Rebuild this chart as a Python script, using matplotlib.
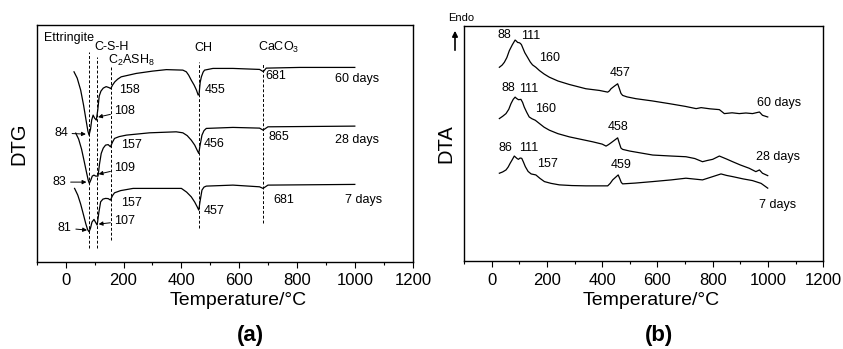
#! /usr/bin/env python3
import numpy as np
import matplotlib
matplotlib.use('Agg')
import matplotlib.pyplot as plt
from matplotlib.ticker import MultipleLocator

plt.rcParams['font.family'] = ['Liberation Sans', 'DejaVu Sans']
plt.rcParams['mathtext.default'] = 'regular'

# DTG curves (temperature in C, signal in arbitrary offset units)
dtg_60_t = [29, 40, 52, 62, 70, 77, 81, 86, 90, 95, 100, 106, 111, 116, 122, 130, 140, 150,
            156, 162, 170, 180, 192, 244, 300, 348, 405, 417, 425, 434, 444, 452, 458, 461,
            465, 469, 475, 480, 509, 578, 670, 683, 693, 809, 999]
dtg_60_v = [190.3, 184, 172, 157, 143, 131, 127, 133, 142, 147, 144, 142, 152, 166, 171,
            174, 175.5, 174.5, 173.5, 177, 180.3, 183, 185.3, 188.7, 191, 192.5, 192, 190.3,
            187, 182, 177, 172, 167, 168, 180, 185.3, 190, 192, 193.7, 193.7, 192.7, 190.5,
            194, 194.7, 194.7]
dtg_28_t = [35, 45, 55, 64, 72, 78, 82, 87, 92, 98, 104, 112, 117, 123, 130, 138, 147, 155,
            162, 169, 185, 210, 290, 382, 405, 420, 434, 446, 455, 460, 464, 471, 478, 486,
            578, 670, 682, 699, 999]
dtg_28_v = [129, 123, 113, 101, 90, 82, 78.7, 82, 86, 87, 86, 86, 98, 108.7, 114, 117,
            117.5, 115.3, 120, 123.7, 125.5, 127, 129.3, 130.3, 129.3, 126.5, 122, 117,
            111.5, 108.7, 116, 127, 131.5, 133.7, 134.7, 134, 132, 135.3, 136]
dtg_7_t = [31, 42, 52, 62, 70, 76, 81, 86, 91, 98, 103, 109, 115, 121, 129, 138, 147, 155,
           162, 169, 190, 233, 371, 400, 418, 434, 446, 455, 460, 464, 471, 478, 486, 578,
           670, 682, 699, 999]
dtg_7_v = [73.7, 67, 58, 47, 38, 32.5, 30.3, 34, 40, 42.7, 40, 37, 50, 60.3, 63, 63.7,
           63.5, 62, 66.5, 69.3, 71.5, 73.7, 73.7, 73.7, 70, 65.3, 60, 55, 52, 60, 72,
           75, 76, 77, 75.3, 73.7, 77, 77.7]

# DTA curves
dta_60_t = [28, 38, 46, 55, 64, 75, 85, 90, 94, 100, 104, 108, 112, 120, 130, 140, 148,
            160, 173, 190, 209, 240, 281, 341, 390, 420, 426, 432, 445, 456, 462, 468, 474,
            490, 522, 580, 643, 700, 740, 758, 790, 824, 842, 870, 896, 920, 944, 969, 980,
            999]
dta_60_v = [195.3, 197.5, 200.3, 205, 212, 218, 222.7, 221.5, 220.3, 220, 219.3, 218,
            215.3, 210, 205.3, 200.5, 197.7, 195.3, 192, 188.5, 185.3, 181.5, 178, 173.7,
            172, 170.3, 171.5, 173.7, 176.5, 178.7, 174, 169, 167, 165.5, 163.7, 161.5,
            158.7, 156, 153.7, 154.7, 153.5, 152.7, 148.7, 149.5, 148.7, 149.3, 148.7, 150.3,
            147, 145.3]
dta_28_t = [28, 40, 52, 62, 70, 78, 85, 90, 97, 106, 112, 118, 127, 136, 146, 158, 173,
            190, 209, 240, 281, 320, 366, 400, 414, 423, 432, 445, 456, 462, 468, 474, 500,
            583, 650, 703, 735, 763, 780, 800, 824, 850, 872, 900, 932, 956, 969, 980, 999]
dta_28_v = [143.7, 146, 148.7, 153, 158.7, 163, 165.3, 164, 162.7, 163, 160, 155.3, 150,
            145.3, 143.5, 142, 138.7, 135, 132, 128.5, 125.3, 123, 120.3, 118, 116, 117.5,
            119.3, 122, 124.3, 119, 114, 112.7, 111, 107, 106, 105.3, 103.5, 100.3, 101.5,
            102.7, 106, 103, 100.3, 97, 93.7, 90.3, 92, 88.7, 86.3]
dta_7_t = [28, 40, 52, 60, 67, 75, 82, 88, 92, 97, 103, 109, 115, 122, 132, 143, 160, 175,
           191, 215, 245, 290, 341, 420, 429, 438, 448, 458, 464, 469, 474, 520, 583, 650,
           703, 763, 800, 830, 850, 872, 910, 944, 975, 999]
dta_7_v = [88.7, 90, 92, 95, 98.7, 102.5, 106, 104.5, 103.5, 102.7, 104, 103.7, 100,
           95.3, 90.5, 88, 87, 83.5, 80.3, 78.5, 77, 76.3, 76, 76, 78.5, 82, 84.5, 87, 83,
           79.5, 78, 78.8, 80.3, 82, 83.7, 82, 85.3, 88, 86.5, 85.3, 83, 81.3, 78.5, 73.7]

# dashed marker lines in (a): temperature, top, bottom
peak_t = [80, 110, 156, 460, 683]
peak_top = [210, 205, 195, 200, 199]
peak_bot = [14, 14, 22, 34, 39]


def style(ax):
    ax.set_xlim(-100, 1200)
    ax.set_ylim(0, 237)
    ax.xaxis.set_major_locator(MultipleLocator(200))
    ax.xaxis.set_minor_locator(MultipleLocator(100))
    ax.tick_params(axis='x', which='major', direction='out', length=4, width=0.8,
                   labelsize=12, pad=4)
    ax.tick_params(axis='x', which='minor', direction='out', length=2.5, width=0.8)
    ax.set_yticks([])
    for s in ax.spines.values():
        s.set_linewidth(1.0)


fig = plt.figure(figsize=(8.43, 3.49), dpi=100)
ax1 = fig.add_axes([0.0435, 0.249, 0.4464, 0.679])
ax2 = fig.add_axes([0.5504, 0.251, 0.4262, 0.675])

# (a) DTG
for t, v in [(dtg_60_t, dtg_60_v), (dtg_28_t, dtg_28_v), (dtg_7_t, dtg_7_v)]:
    ax1.plot(t, v, color='k', lw=0.9)
ax1.vlines(peak_t, peak_bot, peak_top, colors='k', linestyles=(0, (3, 2)), lw=0.7)

fs = 9
labels_a = [(-76, 224, 'Ettringite'), (100, 215, 'C-S-H'), (145, 202, 'C$_2$ASH$_8$'),
            (446, 214, 'CH'), (663, 215, 'CaCO$_3$'),
            (183, 172, '158'), (480, 172, '455'), (691, 186, '681'), (929, 183, '60 days'),
            (193, 117, '157'), (477, 118, '456'), (701, 125, '865'), (929, 122, '28 days'),
            (193, 59, '157'), (477, 51, '457'), (716, 62, '681'), (964, 62, '7 days')]
for x, y, s in labels_a:
    ax1.text(x, y, s, fontsize=fs, ha='left', va='center')

arrows = dict(arrowstyle='-|>', lw=0.7, color='k', shrinkA=1, shrinkB=0,
              mutation_scale=6)
ax1.annotate('84', xy=(70, 128), xytext=(8, 129), ha='right', va='center',
             fontsize=fs, arrowprops=arrows)
ax1.annotate('83', xy=(72, 80), xytext=(3, 80), ha='right', va='center',
             fontsize=fs, arrowprops=arrows)
ax1.annotate('81', xy=(74, 32), xytext=(21, 34), ha='right', va='center',
             fontsize=fs, arrowprops=arrows)
ax1.annotate('108', xy=(112, 145), xytext=(169, 151), ha='left', va='center',
             fontsize=fs, arrowprops=arrows)
ax1.annotate('109', xy=(114, 88), xytext=(169, 94), ha='left', va='center',
             fontsize=fs, arrowprops=arrows)
ax1.annotate('107', xy=(114, 38), xytext=(169, 41), ha='left', va='center',
             fontsize=fs, arrowprops=arrows)

style(ax1)
ax1.set_xlabel('Temperature/°C', fontsize=14, labelpad=3)
ax1.xaxis.label.set_x(0.535)
ax1.set_ylabel('DTG', fontsize=14.5, labelpad=6)

# (b) DTA
for t, v in [(dta_60_t, dta_60_v), (dta_28_t, dta_28_v), (dta_7_t, dta_7_v)]:
    ax2.plot(t, v, color='k', lw=0.9)

labels_b = [(21, 228, '88'), (106, 227, '111'), (173, 205, '160'), (428, 189.5, '457'),
            (961, 159, '60 days'),
            (34, 174.5, '88'), (100, 173.7, '111'), (158, 153.5, '160'), (419, 135.3, '458'),
            (957, 105.3, '28 days'),
            (26, 114, '86'), (100, 114.3, '111'), (165, 97.5, '157'), (432, 96.5, '459'),
            (968, 57, '7 days')]
for x, y, s in labels_b:
    ax2.text(x, y, s, fontsize=fs, ha='left', va='center')

style(ax2)
ax2.set_xlabel('Temperature/°C', fontsize=14, labelpad=3)
ax2.xaxis.label.set_x(0.522)
ax2.set_ylabel('DTA', fontsize=14.5, labelpad=6)

# Endo arrow
fig.text(461 / 843, 1 - 18.3 / 349, 'Endo', fontsize=8, ha='center', va='center')
fig.add_artist(matplotlib.patches.FancyArrowPatch(
    (455 / 843, 1 - 53 / 349), (455 / 843, 1 - 28 / 349), transform=fig.transFigure,
    arrowstyle='-|>', mutation_scale=8, lw=1.2, color='k'))

fig.text(250 / 843, 1 - 335 / 349, '(a)', fontsize=16, fontweight='bold',
         ha='center', va='center')
fig.text(659 / 843, 1 - 335 / 349, '(b)', fontsize=16, fontweight='bold',
         ha='center', va='center')

fig.savefig('out.png', dpi=100)
